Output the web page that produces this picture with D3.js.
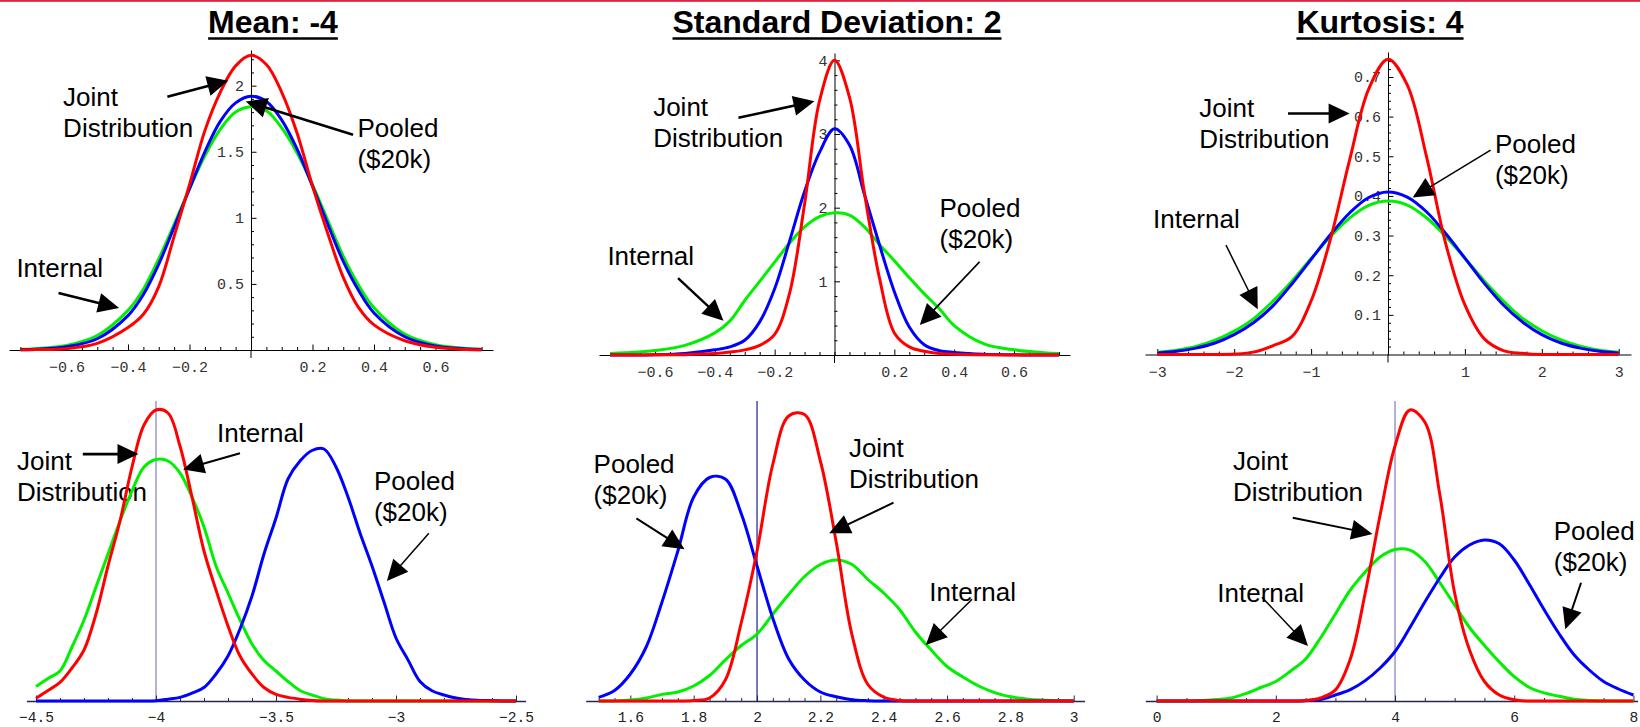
<!DOCTYPE html>
<html>
<head>
<meta charset="utf-8">
<script src="https://cdn.jsdelivr.net/npm/d3@7"></script>
<style>
  body { margin: 0; background: #fff; }
  svg { display: block; }
</style>
</head>
<body>
<svg id="chart" width="1640" height="727"></svg>
<script>
// ---- data ----
const titles = ["Mean: -4", "Standard Deviation: 2", "Kurtosis: 4"];

// top row, centred error distributions (red = joint, blue = pooled, green = internal)
const xsCentred = [-0.75,-0.7,-0.6,-0.5,-0.4,-0.35,-0.3,-0.25,-0.2,-0.15,-0.1,-0.05,0,0.05,0.1,0.15,0.2,0.25,0.3,0.35,0.4,0.5,0.6,0.7,0.75];
const meanRed   = [0,0.003,0.01,0.05,0.17,0.27,0.48,0.86,1.25,1.66,1.95,2.15,2.23,2.16,1.95,1.64,1.24,0.88,0.55,0.32,0.19,0.07,0.02,0.004,0];
const meanBlue  = [0.003,0.006,0.025,0.085,0.26,0.42,0.65,0.93,1.22,1.5,1.73,1.87,1.92,1.88,1.74,1.52,1.24,0.95,0.67,0.45,0.28,0.1,0.03,0.008,0.003];
const meanGreen = [0.005,0.01,0.035,0.11,0.3,0.46,0.69,0.95,1.22,1.47,1.67,1.8,1.84,1.81,1.68,1.49,1.25,0.98,0.71,0.49,0.32,0.12,0.04,0.012,0.005];
const sdRed     = [0,0,0.002,0.005,0.02,0.04,0.07,0.13,0.28,0.84,2.05,3.45,4.0,3.5,2.2,1.05,0.3,0.11,0.05,0.02,0.01,0.003,0.001,0,0];
const sdBlue    = [0,0,0.003,0.02,0.07,0.11,0.2,0.45,0.9,1.55,2.22,2.75,3.07,2.85,2.18,1.5,0.86,0.38,0.14,0.06,0.035,0.01,0.003,0,0];
const sdGreen   = [0.02,0.03,0.06,0.13,0.3,0.46,0.74,1.0,1.26,1.52,1.74,1.88,1.93,1.9,1.74,1.5,1.28,1.05,0.83,0.63,0.4,0.15,0.07,0.03,0.02];

const xsKurt    = [-3,-2.75,-2.5,-2.25,-2,-1.75,-1.5,-1.25,-1,-0.75,-0.5,-0.25,0,0.25,0.5,0.75,1,1.25,1.5,1.75,2,2.25,2.5,2.75,3];
const kurtRed   = [0,0,0,0,0.001,0.006,0.022,0.045,0.135,0.29,0.49,0.67,0.745,0.68,0.5,0.28,0.125,0.04,0.01,0.003,0,0,0,0,0];
const kurtBlue  = [0.004,0.008,0.016,0.029,0.05,0.08,0.122,0.178,0.24,0.302,0.357,0.396,0.41,0.397,0.36,0.305,0.243,0.18,0.125,0.082,0.05,0.029,0.016,0.008,0.004];
const kurtGreen = [0.006,0.011,0.02,0.036,0.059,0.09,0.134,0.185,0.242,0.297,0.344,0.376,0.387,0.377,0.345,0.298,0.243,0.186,0.135,0.091,0.06,0.037,0.021,0.011,0.006];

// bottom row, estimates on their own scale (relative height)
const xsMeanLevel = [-4.5,-4.45,-4.4,-4.35,-4.3,-4.25,-4.2,-4.15,-4.1,-4.05,-4,-3.95,-3.9,-3.85,-3.8,-3.75,-3.7,-3.65,-3.6,-3.55,-3.5,-3.45,-3.4,-3.35,-3.3,-3.25,-3.2,-3.15,-3.1,-3.05,-3,-2.95,-2.9,-2.85,-2.8,-2.75,-2.7,-2.65,-2.6,-2.55,-2.5];
const meanLevelRed   = [0.009,0.035,0.062,0.11,0.17,0.29,0.45,0.6,0.78,0.92,0.97,0.96,0.85,0.68,0.5,0.37,0.25,0.15,0.09,0.045,0.022,0.012,0.006,0.002,0,0,0,0,0,0,0,0,0,0,0,0,0,0,0,0,0];
const meanLevelBlue  = [0,0,0,0,0,0,0,0,0,0,0.001,0.006,0.012,0.026,0.045,0.09,0.15,0.24,0.35,0.49,0.61,0.74,0.8,0.835,0.84,0.78,0.68,0.56,0.45,0.33,0.21,0.137,0.065,0.034,0.02,0.01,0.004,0.002,0.001,0,0];
const meanLevelGreen = [0.048,0.075,0.1,0.18,0.27,0.38,0.49,0.6,0.7,0.78,0.805,0.8,0.76,0.68,0.58,0.45,0.36,0.27,0.19,0.135,0.1,0.065,0.035,0.02,0.008,0.003,0,0,0,0,0,0,0,0,0,0,0,0,0,0,0];

const xsSdLevel = [1.5,1.55,1.6,1.65,1.7,1.75,1.8,1.85,1.9,1.95,2,2.05,2.1,2.15,2.2,2.25,2.3,2.35,2.4,2.45,2.5,2.55,2.6,2.65,2.7,2.75,2.8,2.85,2.9,2.95,3];
const sdLevelRed   = [0,0,0,0,0,0,0.002,0.01,0.07,0.26,0.5,0.79,0.95,0.955,0.8,0.53,0.22,0.055,0.013,0.002,0,0,0,0,0,0,0,0,0,0,0];
const sdLevelBlue  = [0.012,0.035,0.09,0.18,0.33,0.5,0.68,0.745,0.74,0.625,0.45,0.275,0.14,0.07,0.03,0.014,0.004,0.001,0,0,0,0,0,0,0,0,0,0,0,0,0];
const sdLevelGreen = [0,0,0.003,0.01,0.022,0.03,0.05,0.085,0.137,0.185,0.223,0.29,0.355,0.415,0.455,0.47,0.455,0.405,0.36,0.305,0.23,0.17,0.115,0.08,0.05,0.028,0.014,0.007,0.003,0.001,0];

const xsKurtLevel = [0,0.25,0.5,0.75,1,1.25,1.5,1.75,2,2.25,2.5,2.75,3,3.25,3.5,3.75,4,4.25,4.5,4.75,5,5.25,5.5,5.75,6,6.25,6.5,6.75,7,7.25,7.5,7.75,8];
const kurtLevelRed   = [0,0,0,0,0,0,0,0,0,0,0.002,0.01,0.037,0.14,0.36,0.62,0.85,0.97,0.93,0.69,0.36,0.17,0.065,0.02,0.004,0,0,0,0,0,0,0,0];
const kurtLevelBlue  = [0,0,0,0,0,0,0,0,0,0,0.001,0.005,0.02,0.038,0.068,0.11,0.165,0.245,0.33,0.41,0.48,0.52,0.537,0.524,0.47,0.39,0.305,0.225,0.155,0.105,0.065,0.04,0.02];
const kurtLevelGreen = [0,0,0,0.002,0.005,0.01,0.025,0.045,0.065,0.1,0.14,0.21,0.29,0.37,0.43,0.48,0.505,0.503,0.465,0.395,0.32,0.245,0.185,0.13,0.081,0.046,0.027,0.016,0.006,0.002,0,0,0];

// tick labels
const ticksCentredX = [-0.6,-0.4,-0.2,0.2,0.4,0.6];
const ticksMeanY = [0.5,1,1.5,2];
const ticksSdY = [1,2,3,4];
const ticksKurtX = [-3,-2,-1,1,2,3];
const ticksKurtY = [0.1,0.2,0.3,0.4,0.5,0.6,0.7];
const ticksMeanLevel = [-4.5,-4,-3.5,-3,-2.5];
const ticksSdLevel = [1.6,1.8,2,2.2,2.4,2.6,2.8,3];
const ticksKurtLevel = [0,2,4,6,8];

const JOINT = ["Joint","Distribution"], POOLED = ["Pooled","($20k)"], INTERNAL = ["Internal"];

// ---- layout ----
const panels = [
  { row: 0, xs: xsCentred, red: meanRed, blue: meanBlue, green: meanGreen,
    xDomain: [-0.787,0.787], xRange: [9,493], yDomain: [0,2.27], yRange: [350,50],
    xTicks: ticksCentredX, xMinor: 0.05, xMinorSpan: [-0.75,0.75], yTicks: ticksMeanY, yMinor: 0.1, yMinorMax: 2.2,
    notes: [
      { lines: JOINT, at: [-0.611,1.848], from: [-0.272,1.917], to: [-0.074,2.038], w: 2.6 },
      { lines: POOLED, at: [0.346,1.608], from: [0.332,1.629], to: [-0.017,1.881], w: 2.6 },
      { lines: INTERNAL, at: [-0.763,0.555], from: [-0.626,0.432], to: [-0.429,0.318], w: 2.6 }
    ] },
  { row: 0, xs: xsCentred, red: sdRed, blue: sdBlue, green: sdGreen,
    xDomain: [-0.787,0.787], xRange: [599,1070], yDomain: [0,4.1], yRange: [355,53],
    xTicks: ticksCentredX, xMinor: 0.05, xMinorSpan: [-0.75,0.75], yTicks: ticksSdY, yMinor: 0.2, yMinorMax: 4,
    notes: [
      { lines: JOINT, at: [-0.606,3.243], from: [-0.321,3.22], to: [-0.067,3.446], w: 2.6 },
      { lines: POOLED, at: [0.351,1.872], from: [0.485,1.266], to: [0.285,0.407], w: 1.8 },
      { lines: INTERNAL, at: [-0.759,1.221], from: [-0.523,1.045], to: [-0.371,0.465], w: 2.4 }
    ] },
  { row: 0, xs: xsKurt, red: kurtRed, blue: kurtBlue, green: kurtGreen,
    xDomain: [-3.16,3.16], xRange: [1145,1631], yDomain: [0,0.763], yRange: [354.5,52],
    xTicks: ticksKurtX, xMinor: 0.2, xMinorSpan: [-3,3], yTicks: ticksKurtY, yMinor: 0.02, yMinorMax: 0.74,
    notes: [
      { lines: JOINT, at: [-2.453,0.599], from: [-1.3,0.608], to: [-0.499,0.608], w: 2.6 },
      { lines: POOLED, at: [1.391,0.507], from: [1.334,0.5155], to: [0.321,0.396], w: 1.5 },
      { lines: INTERNAL, at: [-3.056,0.318], from: [-2.107,0.276], to: [-1.694,0.114], w: 1.5 }
    ] },
  { row: 1, xs: xsMeanLevel, red: meanLevelRed, blue: meanLevelBlue, green: meanLevelGreen,
    xDomain: [-4.54,-2.46], xRange: [26.4,525.6], yDomain: [0,1], yRange: [701,401],
    xTicks: ticksMeanLevel, xMinor: 0.1, xMinorSpan: [-4.5,-2.5], ref: -4, refColor: "#7d7dc0",
    notes: [
      { lines: JOINT, at: [-4.579,0.77], from: [-4.305,0.823], to: [-4.073,0.823], w: 2.6 },
      { lines: INTERNAL, at: [-3.746,0.864], from: [-3.65,0.826], to: [-3.887,0.772], w: 2 },
      { lines: POOLED, at: [-3.092,0.703], from: [-2.863,0.559], to: [-3.038,0.4], w: 1.5 }
    ] },
  { row: 1, xs: xsSdLevel, red: sdLevelRed, blue: sdLevelBlue, green: sdLevelGreen,
    xDomain: [1.459,3.034], xRange: [585.7,1084.5], yDomain: [0,1], yRange: [701,401],
    xTicks: ticksSdLevel, xMinor: 0.05, xMinorSpan: [1.5,3], ref: 2, refColor: "#1e1e8c",
    notes: [
      { lines: POOLED, at: [1.484,0.759], from: [1.619,0.609], to: [1.771,0.506], w: 2 },
      { lines: JOINT, at: [2.29,0.812], from: [2.431,0.661], to: [2.228,0.559], w: 2 },
      { lines: INTERNAL, at: [2.544,0.334], from: [2.679,0.339], to: [2.533,0.187], w: 1.5 }
    ] },
  { row: 1, xs: xsKurtLevel, red: kurtLevelRed, blue: kurtLevelBlue, green: kurtLevelGreen,
    xDomain: [-0.19,8.07], xRange: [1145.3,1637.6], yDomain: [0,1], yRange: [701,401],
    xTicks: ticksKurtLevel, xMinor: 0.5, xMinorSpan: [0,8], ref: 4, refColor: "#7d7dc0",
    notes: [
      { lines: JOINT, at: [1.282,0.77], from: [2.284,0.611], to: [3.621,0.557], w: 2 },
      { lines: INTERNAL, at: [1.018,0.331], from: [1.767,0.346], to: [2.54,0.183], w: 1.5 },
      { lines: POOLED, at: [6.663,0.537], from: [7.121,0.394], to: [6.857,0.239], w: 2 }
    ] }
];

const titleCentres = [273, 837, 1380];

// ---- drawing ----
const svg = d3.select("#chart");
const minus = v => String(v).replace("-", "\u2212");
const monoFont = "'Liberation Mono', 'Courier New', monospace";
const sansFont = "'Liberation Sans', Arial, Helvetica, sans-serif";

svg.append("rect")
    .attr("x", 0).attr("y", 0)
    .attr("width", 1640).attr("height", 1.8)
    .attr("fill", "#e0203c");

titles.forEach((t, i) => {
  const txt = svg.append("text")
      .attr("x", titleCentres[i])
      .attr("y", 33)
      .attr("text-anchor", "middle")
      .attr("font-family", sansFont)
      .attr("font-weight", "bold")
      .attr("font-size", 32)
      .text(t);
  const w = txt.node().getComputedTextLength();
  svg.append("line")
      .attr("x1", titleCentres[i] - w / 2).attr("x2", titleCentres[i] + w / 2)
      .attr("y1", 38.5).attr("y2", 38.5)
      .attr("stroke", "#000")
      .attr("stroke-width", 2.7);
});

function arrow(g, x1, y1, x2, y2, w) {
  const len = Math.hypot(x2 - x1, y2 - y1);
  const ux = (x2 - x1) / len, uy = (y2 - y1) / len;
  const headLen = 21, half = 10;
  const bx = x2 - ux * headLen, by = y2 - uy * headLen;
  g.append("line")
      .attr("x1", x1).attr("y1", y1)
      .attr("x2", bx + ux * 2).attr("y2", by + uy * 2)
      .attr("stroke", "#000")
      .attr("stroke-width", w);
  g.append("path")
      .attr("d", `M${x2},${y2}L${bx - uy * half},${by + ux * half}L${bx + uy * half},${by - ux * half}Z`)
      .attr("fill", "#000");
}

panels.forEach(p => {
  const x = d3.scaleLinear().domain(p.xDomain).range(p.xRange);
  const y = d3.scaleLinear().domain(p.yDomain).range(p.yRange);
  const g = svg.append("g");
  const y0 = y(0);
  const axisColor = p.row === 0 ? "#000" : "#26264e";
  const labelColor = p.row === 0 ? "#333" : "#222";

  const minorX = d3.range(p.xMinorSpan[0], p.xMinorSpan[1] + 1e-9, p.xMinor)
      .filter(v => !p.xTicks.some(t => Math.abs(t - v) < 1e-9));

  if (p.ref !== undefined) {
    g.append("line")
        .attr("x1", x(p.ref)).attr("x2", x(p.ref))
        .attr("y1", y(1)).attr("y2", y0)
        .attr("stroke", p.refColor)
        .attr("stroke-width", 1.2);
  }

  // minor x ticks
  const minorAxis = g.append("g")
      .attr("transform", `translate(0,${y0})`)
      .call(d3.axisBottom(x).tickValues(minorX).tickSizeInner(-3).tickSizeOuter(0).tickFormat(""));
  minorAxis.select(".domain").remove();
  minorAxis.selectAll("line").attr("stroke", axisColor);

  // major x ticks + axis line
  const xAxis = g.append("g")
      .attr("transform", `translate(0,${y0})`)
      .call(d3.axisBottom(x).tickValues(p.xTicks).tickSizeInner(-5.5).tickSizeOuter(0)
        .tickPadding(p.row === 0 ? 11.5 : 10.8).tickFormat(minus));
  xAxis.select(".domain").attr("stroke", axisColor).attr("stroke-width", p.row === 0 ? 1 : 1.3);
  xAxis.selectAll("line").attr("stroke", axisColor);
  xAxis.selectAll("text")
      .attr("fill", labelColor)
      .attr("font-family", monoFont)
      .attr("font-size", p.row === 0 ? 15 : 14.6);
  xAxis.attr("font-family", null).attr("font-size", null);

  if (p.row === 0) {
    const x0 = x(0);
    const minorY = d3.range(p.yMinor, p.yMinorMax + 1e-9, p.yMinor)
        .filter(v => !p.yTicks.some(t => Math.abs(t - v) < 1e-9));
    const yMinorAxis = g.append("g")
        .attr("transform", `translate(${x0},0)`)
        .call(d3.axisLeft(y).tickValues(minorY).tickSizeInner(-3).tickSizeOuter(0).tickFormat(""));
    yMinorAxis.select(".domain").remove();
    yMinorAxis.selectAll("line").attr("stroke", "#000");

    const yAxis = g.append("g")
        .attr("transform", `translate(${x0},0)`)
        .call(d3.axisLeft(y).tickValues(p.yTicks).tickSizeInner(-5.5).tickSizeOuter(0)
          .tickPadding(7).tickFormat(minus));
    yAxis.select(".domain").attr("stroke", "#000");
    yAxis.selectAll("line").attr("stroke", "#000");
    yAxis.selectAll("text")
        .attr("fill", labelColor)
        .attr("font-family", monoFont)
        .attr("font-size", 15);
    yAxis.attr("font-family", null).attr("font-size", null);
    g.append("line")
        .attr("x1", x0).attr("x2", x0)
        .attr("y1", y0).attr("y2", y0 + 8)
        .attr("stroke", "#000");
  }

  // annotation text
  p.notes.forEach(n => {
    const t = g.append("text")
        .attr("x", x(n.at[0]))
        .attr("y", y(n.at[1]))
        .attr("font-family", sansFont)
        .attr("font-size", 26)
        .attr("fill", "#000");
    n.lines.forEach((s, i) => {
      t.append("tspan")
          .attr("x", x(n.at[0]))
          .attr("dy", i === 0 ? 0 : 31)
          .text(s);
    });
  });

  // curves
  const line = d3.line()
      .x((d, i) => x(p.xs[i]))
      .y(d => y(d))
      .curve(d3.curveCatmullRom.alpha(0.5));
  [[p.green, "#00f000"], [p.blue, "#0000ff"], [p.red, "#ff0000"]].forEach(([vals, col]) => {
    g.append("path")
        .datum(vals)
        .attr("d", line)
        .attr("fill", "none")
        .attr("stroke", col)
        .attr("stroke-width", 3)
        .attr("stroke-linejoin", "round");
  });

  // arrows
  p.notes.forEach(n => {
    arrow(g, x(n.from[0]), y(n.from[1]), x(n.to[0]), y(n.to[1]), n.w);
  });
});
</script>
</body>
</html>
